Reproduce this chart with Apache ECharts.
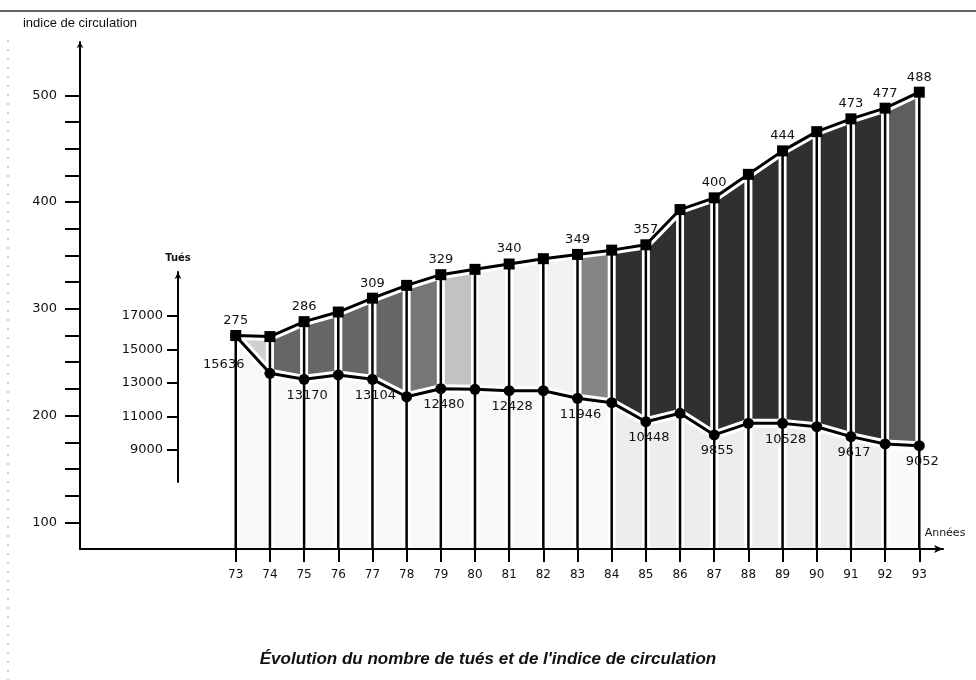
<!DOCTYPE html>
<html>
<head>
<meta charset="utf-8">
<script src="https://cdn.jsdelivr.net/npm/echarts@6/dist/echarts.min.js"></script>
<style>
  html, body { margin: 0; padding: 0; background: #fff; }
  #chart { width: 976px; height: 680px; }
</style>
</head>
<body>
<div id="chart"></div>
<script>
// années 1973 .. 1993
const years = [73, 74, 75, 76, 77, 78, 79, 80, 81, 82, 83, 84, 85, 86, 87, 88, 89, 90, 91, 92, 93]
const indexValues = [275, 274, 288, 297, 310, 322, 332, 337, 342, 347, 351, 355, 360, 393, 404, 426, 448, 466, 478, 488, 503]
// valeurs imprimées au-dessus des carrés
const indexLabels = ['275', '', '286', '', '309', '', '329', '', '340', '', '349', '', '357', '', '400', '', '444', '', '473', '477', '488']
const killedValues = [15800, 13580, 13220, 13480, 13220, 12180, 12660, 12620, 12540, 12540, 12085, 11825, 10690, 11190, 9900, 10590, 10590, 10390, 9800, 9360, 9260]
const killedLabels = ['15636', '', '13170', '', '13104', '', '12480', '', '12428', '', '11946', '', '10448', '', '9855', '', '10528', '', '9617', '', '9052']
// graduations
const indexTicks = [100, 125, 150, 175, 200, 225, 250, 275, 300, 325, 350, 375, 400, 425, 450, 475, 500]
const indexTickLabels = [100, 200, 300, 400, 500]
const killedTicks = [9000, 11000, 13000, 15000, 17000]

const FONT = 'DejaVu Sans'
const IDX_MIN = 75

let chart = echarts.init(document.getElementById('chart'))

const idxData = years.map((y, i) => [y, indexValues[i]])
const killedData = years.map((y, i) => {
  let item = { value: [y, killedValues[i]] }
  if (i === 0) item.label = { offset: [-12, 13] }
  return item
})

function hardStops (list) {
  // [de, à, couleur] en années -> arrêts de dégradé à bords nets
  let stops = []
  list.forEach(s => {
    stops.push({ offset: (s[0] - 73) / 20, color: s[2] })
    stops.push({ offset: (s[1] - 73) / 20, color: s[2] })
  })
  return stops
}

const topFill = new echarts.graphic.LinearGradient(0, 0, 1, 0, hardStops([
  [73, 74, '#cfcfcf'],
  [74, 78, '#666666'],
  [78, 79, '#767676'],
  [79, 80, '#c2c2c2'],
  [80, 83, '#f2f2f2'],
  [83, 84, '#858585'],
  [84, 92, '#303030'],
  [92, 93, '#5e5e5e']
]))
const bottomFill = new echarts.graphic.LinearGradient(0, 0, 1, 0, hardStops([
  [73, 84, '#f8f8f8'],
  [84, 92, '#ededed'],
  [92, 93, '#fafafa']
]))

let option = {
  animation: false,
  backgroundColor: '#fff',
  title: {
    text: 'Évolution du nombre de tués et de l\'indice de circulation',
    left: 'center',
    top: 646,
    textStyle: { fontFamily: 'Liberation Sans', fontStyle: 'italic', fontWeight: 'bold', fontSize: 17, color: '#111' }
  },
  graphic: [
    { type: 'line', shape: { x1: 0, y1: 11, x2: 976, y2: 11 }, style: { stroke: '#333', lineWidth: 1.5 } },
    { type: 'line', shape: { x1: 8, y1: 40, x2: 8, y2: 680 }, style: { stroke: '#999', lineWidth: 1, lineDash: [2, 7] } }
  ],
  grid: [
    { left: 80, right: 33, top: 42, bottom: 131 },
    { left: 178, width: 10, top: 272, bottom: 198 }
  ],
  xAxis: [
    {
      gridIndex: 0,
      type: 'value',
      min: 68.443,
      max: 93.694,
      z: 10,
      name: 'Années',
      nameLocation: 'end',
      nameGap: 2,
      nameTextStyle: { fontFamily: FONT, fontSize: 11, color: '#111', align: 'center', verticalAlign: 'bottom', padding: [0, 0, 10, 0] },
      splitLine: { show: false },
      axisLine: { lineStyle: { color: '#000', width: 2 }, symbol: ['none', 'arrow'], symbolSize: [6, 9] },
      axisTick: { customValues: years, length: 13, lineStyle: { color: '#000', width: 2 } },
      axisLabel: { customValues: years, margin: 20, fontFamily: FONT, fontSize: 12, color: '#111' }
    },
    { gridIndex: 1, type: 'value', show: false }
  ],
  yAxis: [
    {
      gridIndex: 0,
      type: 'value',
      min: IDX_MIN,
      max: 550,
      z: 10,
      name: 'indice de circulation',
      nameLocation: 'end',
      nameGap: 12,
      nameTextStyle: { fontFamily: 'Liberation Sans', fontSize: 13, color: '#111', align: 'center' },
      splitLine: { show: false },
      axisLine: { show: true, lineStyle: { color: '#000', width: 2 }, symbol: ['none', 'arrow'], symbolSize: [5, 6] },
      axisTick: { show: true, customValues: indexTicks, length: 15, lineStyle: { color: '#000', width: 2 } },
      axisLabel: { customValues: indexTickLabels, margin: 23, fontFamily: FONT, fontSize: 13, color: '#111' }
    },
    {
      gridIndex: 0,
      type: 'value',
      min: 3090,
      max: 33358,
      show: false
    },
    {
      gridIndex: 1,
      type: 'value',
      min: 7090,
      max: 19627,
      position: 'left',
      name: 'Tués',
      nameLocation: 'end',
      nameGap: 9,
      nameTextStyle: { fontFamily: FONT, fontWeight: 'bold', fontSize: 10, color: '#111', align: 'center' },
      splitLine: { show: false },
      axisLine: { show: true, lineStyle: { color: '#000', width: 2 }, symbol: ['none', 'arrow'], symbolSize: [5, 7] },
      axisTick: { show: true, customValues: killedTicks, length: 11, lineStyle: { color: '#000', width: 2 } },
      axisLabel: { customValues: killedTicks, margin: 15, fontFamily: FONT, fontSize: 13, color: '#111', formatter: v => String(v) }
    }
  ],
  series: [
    {
      // surface sous l'indice de circulation
      type: 'line',
      xAxisIndex: 0,
      yAxisIndex: 0,
      data: idxData,
      symbol: 'none',
      lineStyle: { width: 0 },
      areaStyle: { color: topFill, opacity: 1 },
      z: 1,
      silent: true
    },
    {
      // surface sous la courbe des tués
      type: 'line',
      xAxisIndex: 0,
      yAxisIndex: 1,
      data: years.map((y, i) => [y, killedValues[i]]),
      symbol: 'none',
      lineStyle: { width: 0 },
      areaStyle: { color: bottomFill, opacity: 1 },
      z: 2,
      silent: true
    },
    {
      type: 'line',
      xAxisIndex: 0,
      yAxisIndex: 0,
      data: idxData,
      symbol: 'none',
      lineStyle: { color: '#fff', width: 9 },
      z: 3,
      silent: true
    },
    {
      type: 'line',
      xAxisIndex: 0,
      yAxisIndex: 1,
      data: years.map((y, i) => [y, killedValues[i]]),
      symbol: 'none',
      lineStyle: { color: '#fff', width: 9 },
      z: 3,
      silent: true
    },
    {
      // traits verticaux
      type: 'custom',
      xAxisIndex: 0,
      yAxisIndex: 0,
      data: idxData,
      z: 4,
      clip: false,
      renderItem: function (params, api) {
        let x = api.value(0)
        let p1 = api.coord([x, api.value(1)])
        let p0 = api.coord([x, IDX_MIN])
        let shape = { x1: p0[0], y1: p0[1], x2: p1[0], y2: p1[1] }
        return {
          type: 'group',
          children: [
            { type: 'line', shape: shape, style: { stroke: '#fff', lineWidth: 8 } },
            { type: 'line', shape: shape, style: { stroke: '#000', lineWidth: 2.5 } }
          ]
        }
      }
    },
    {
      name: 'Indice de circulation',
      type: 'line',
      xAxisIndex: 0,
      yAxisIndex: 0,
      data: idxData,
      symbol: 'rect',
      symbolSize: 11,
      itemStyle: { color: '#000' },
      lineStyle: { color: '#000', width: 3 },
      z: 5,
      label: {
        show: true,
        position: 'top',
        distance: 3,
        fontFamily: FONT,
        fontSize: 13,
        color: '#111',
        formatter: p => indexLabels[p.dataIndex]
      }
    },
    {
      name: 'Tués',
      type: 'line',
      xAxisIndex: 0,
      yAxisIndex: 1,
      data: killedData,
      symbol: 'circle',
      symbolSize: 11,
      itemStyle: { color: '#000' },
      lineStyle: { color: '#000', width: 3 },
      z: 5,
      label: {
        show: true,
        position: 'bottom',
        distance: 4,
        offset: [3, 0],
        fontFamily: FONT,
        fontSize: 13,
        color: '#111',
        formatter: p => killedLabels[p.dataIndex]
      }
    }
  ]
}

option && chart.setOption(option)
</script>
</body>
</html>
